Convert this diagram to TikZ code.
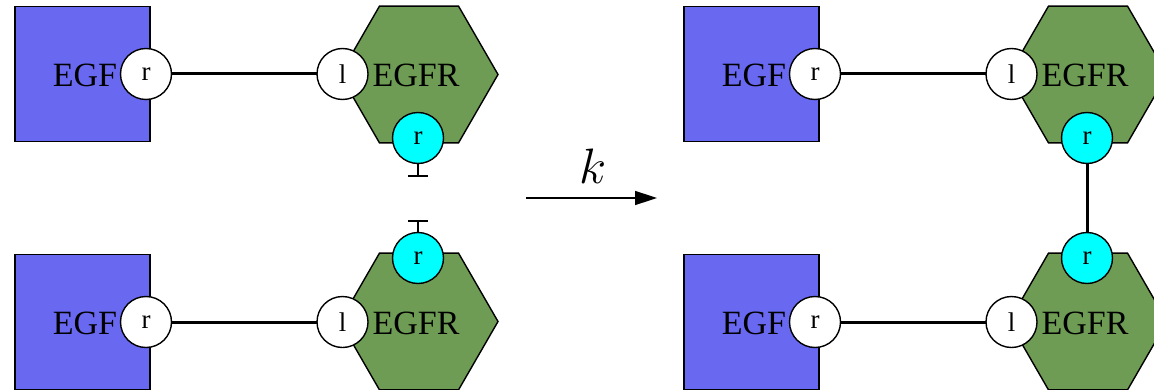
\documentclass[tikz,border=0pt]{standalone}
\usepackage{fontspec}
\setmainfont{Liberation Serif}
\usetikzlibrary{shapes.geometric,arrows.meta}
\definecolor{egfblue}{RGB}{104,104,240}
\definecolor{egfrgreen}{RGB}{110,156,84}
\definecolor{sitecyan}{RGB}{0,255,255}
\begin{document}
\begin{tikzpicture}[x=0.5pt,y=-0.5pt,
  agent/.style={draw,line width=0.7pt,fill=egfblue,minimum size=67.5pt,inner sep=0pt,outer sep=0pt},
  receptor/.style={draw,line width=0.7pt,fill=egfrgreen,regular polygon,regular polygon sides=6,minimum size=79pt,inner sep=0pt,outer sep=0pt},
  label/.style={font=\fontsize{17}{19}\selectfont,inner sep=0pt},
  site/.style={circle,draw,line width=0.7pt,fill=white,minimum size=25.5pt,inner sep=0pt,outer sep=0pt,font=\fontsize{13.5}{15}\selectfont},
  psite/.style={site,fill=sitecyan},
  bond/.style={line width=1.5pt},
  teebond/.style={line width=0.75pt,-{Bar[width=10pt,line width=1pt]}},
  reaction/.style={line width=0.75pt,-{Triangle[length=11pt,width=7pt]}}]
\useasboundingbox (0,0) rectangle (1154,390);
\clip (0,0) rectangle (1154,390);

% ---- left, top complex
\node[agent] (egf1) at (82.5,74) {};
\node[label] (egf1t) at (85,75) {EGF};
\node[receptor] (egfr1) at (419,74.5) {};
\node[label] (egfr1t) at (416,75) {EGFR};
\node[site] (egf1r) at (146,74) {r};
\node[site] (egfr1l) at (342.5,74) {l};
\node[psite] (egfr1r) at (418,138) {r};
\draw[bond] (egf1r) -- (egfr1l);
\coordinate (tee1) at (418,177);
\draw[teebond] (egfr1r) -- (tee1);

% ---- left, bottom complex
\node[agent] (egf2) at (82.5,322) {};
\node[label] (egf2t) at (85,323) {EGF};
\node[receptor] (egfr2) at (419,321.5) {};
\node[label] (egfr2t) at (416,323) {EGFR};
\node[site] (egf2r) at (146,322) {r};
\node[site] (egfr2l) at (342.5,322) {l};
\node[psite] (egfr2r) at (418,258) {r};
\draw[bond] (egf2r) -- (egfr2l);
\coordinate (tee2) at (418,220);
\draw[teebond] (egfr2r) -- (tee2);

% ---- reaction arrow
\coordinate (ra) at (526,198);
\coordinate (rb) at (657,198);
\draw[reaction] (ra) -- (rb);
\node[font=\fontsize{23}{26}\selectfont] (k) at (593,166) {$k$};

% ---- right, top complex
\node[agent] (egf3) at (751.5,74) {};
\node[label] (egf3t) at (754,75) {EGF};
\node[receptor] (egfr3) at (1088,74.5) {};
\node[label] (egfr3t) at (1085,75) {EGFR};
\node[site] (egf3r) at (815,74) {r};
\node[site] (egfr3l) at (1011.5,74) {l};
\draw[bond] (egf3r) -- (egfr3l);

% ---- right, bottom complex
\node[agent] (egf4) at (751.5,322) {};
\node[label] (egf4t) at (754,323) {EGF};
\node[receptor] (egfr4) at (1088,321.5) {};
\node[label] (egfr4t) at (1085,323) {EGFR};
\node[site] (egf4r) at (815,322) {r};
\node[site] (egfr4l) at (1011.5,322) {l};
\draw[bond] (egf4r) -- (egfr4l);

\node[psite] (egfr3r) at (1087,138) {r};
\node[psite] (egfr4r) at (1087,258) {r};
\draw[bond] (egfr3r) -- (egfr4r);
\end{tikzpicture}
\end{document}
